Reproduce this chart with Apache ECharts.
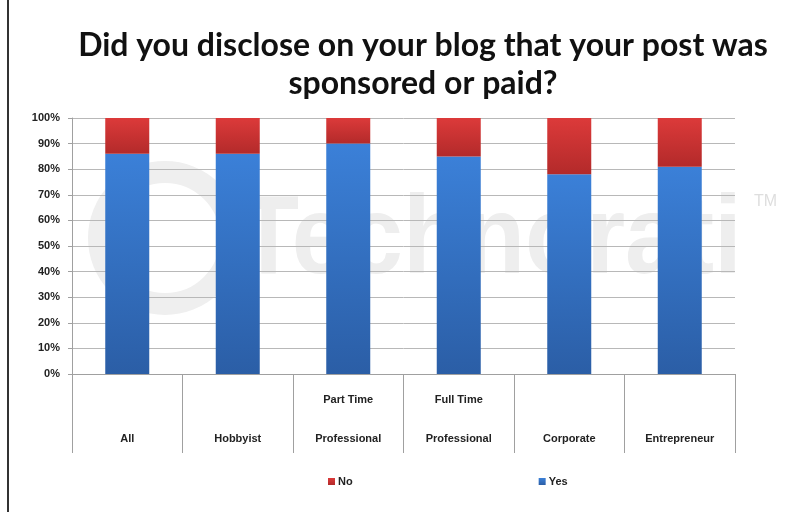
<!DOCTYPE html>
<html>
<head>
<meta charset="utf-8">
<script src="https://cdn.jsdelivr.net/npm/echarts@6/dist/echarts.min.js"></script>
<style>
html,body{margin:0;padding:0;background:#fff;}
#c{width:809px;height:515px;}
</style>
</head>
<body>
<div id="c"></div>
<script>
const categories = ['\nAll', '\nHobbyist', 'Part Time\nProfessional', 'Full Time\nProfessional', '\nCorporate', '\nEntrepreneur'];
const yesValues = [86, 86, 90, 85, 78, 81];
const noValues = [14, 14, 10, 15, 22, 19];
const yTicks = [0, 10, 20, 30, 40, 50, 60, 70, 80, 90, 100];

const chart = echarts.init(document.getElementById('c'));
const blue = new echarts.graphic.LinearGradient(0, 0, 0, 1, [
  {offset: 0, color: '#3b80d8'}, {offset: 1, color: '#2b5ea6'}
]);
const red = new echarts.graphic.LinearGradient(0, 0, 0, 1, [
  {offset: 0, color: '#dc3a3a'}, {offset: 1, color: '#b32a2a'}
]);
chart.setOption({
  backgroundColor: '#fff',
  animation: false,
  title: {
    text: 'Did you disclose on your blog that your post was\nsponsored or paid?',
    left: 418, top: 22, textAlign: 'center',
    textStyle: {fontFamily: 'Lato, Liberation Sans, Arial, sans-serif', fontWeight: 'bold', fontSize: 32, lineHeight: 38, color: '#111'}
  },
  graphic: [
    {type: 'line', shape: {x1: 8, y1: 0, x2: 8, y2: 512}, style: {stroke: '#333', lineWidth: 2}, z: 100},
    {type: 'circle', shape: {cx: 165, cy: 238, r: 66}, style: {fill: 'none', stroke: '#efefef', lineWidth: 22}, z: -10, silent: true},
    {type: 'text', left: 238, top: 186, z: -10, silent: true, scaleY: 1.12,
      style: {text: 'Technorati', fill: '#eeeeee', font: 'bold 100px Liberation Sans, Arial, sans-serif'}},
    {type: 'text', left: 754, top: 194, z: -10, silent: true,
      style: {text: 'TM', fill: '#dedede', font: '16px Liberation Sans, Arial, sans-serif'}}
  ],
  legend: {
    data: ['No', 'Yes'],
    bottom: 23, left: 323,
    itemWidth: 7, itemHeight: 7, itemGap: 186,
    icon: 'rect',
    textStyle: {fontFamily: 'Liberation Sans, Arial, sans-serif', fontWeight: 'bold', fontSize: 11, color: '#222', padding: [0,0,0,-2]}
  },
  grid: {left: 72, right: 74, top: 118, bottom: 141, containLabel: false},
  xAxis: {
    type: 'category',
    data: categories,
    axisLine: {show: true, lineStyle: {color: '#a0a0a0', width: 1}},
    axisTick: {show: true, length: 79, lineStyle: {color: '#a0a0a0'}},
    axisLabel: {
      interval: 0, margin: 6, lineHeight: 39,
      fontFamily: 'Liberation Sans, Arial, sans-serif', fontWeight: 'bold', fontSize: 11, color: '#222'
    }
  },
  yAxis: {
    type: 'value', min: 0, max: 100, interval: 10,
    axisLine: {show: true, lineStyle: {color: '#a0a0a0'}},
    axisTick: {show: true, length: 4, lineStyle: {color: '#a0a0a0'}},
    splitLine: {show: true, lineStyle: {color: '#b8b8b8', width: 1}},
    axisLabel: {
      formatter: v => yTicks.indexOf(v) >= 0 ? v + '%' : '',
      margin: 12,
      fontFamily: 'Liberation Sans, Arial, sans-serif', fontWeight: 'bold', fontSize: 11, color: '#222'
    }
  },
  series: [
    {name: 'Yes', type: 'bar', stack: 's', data: yesValues, barWidth: 44, itemStyle: {color: blue}, color: '#3a70c0'},
    {name: 'No', type: 'bar', stack: 's', data: noValues, barWidth: 44, itemStyle: {color: red}, color: '#c83232'}
  ]
});
</script>
</body>
</html>
